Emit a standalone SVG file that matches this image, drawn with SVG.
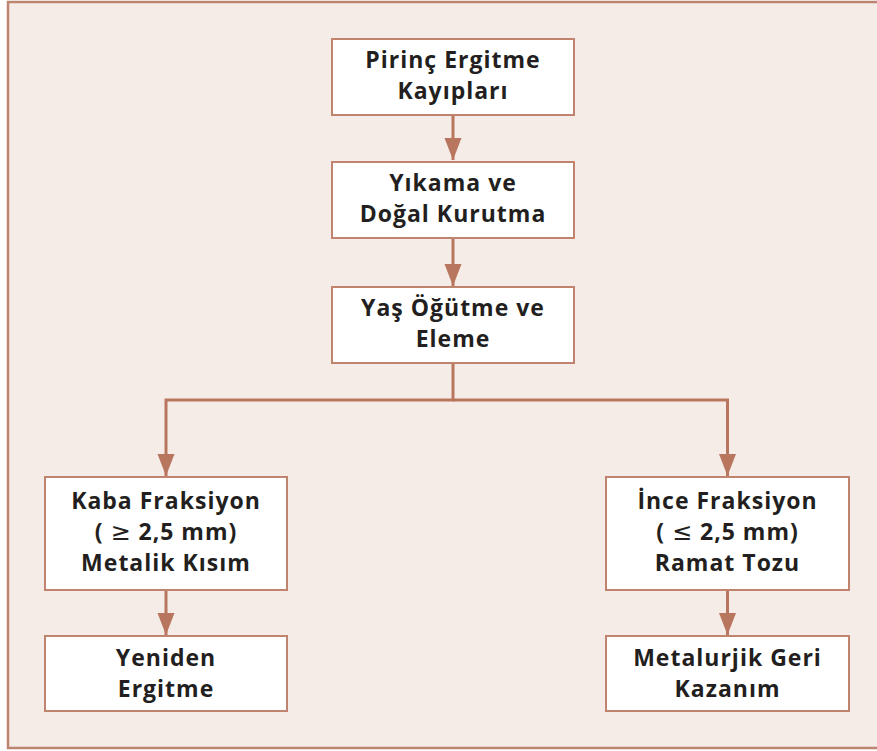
<svg xmlns="http://www.w3.org/2000/svg" width="877" height="751" viewBox="0 0 877 751">
<defs>
<style>
.box{fill:#ffffff;stroke:#c0846e;stroke-width:2}
.t{font-family:"Open Sans","Noto Sans","Liberation Sans",sans-serif;font-weight:bold;font-size:23px;letter-spacing:1px;fill:#231f20;text-anchor:middle}
.s{font-family:"DejaVu Sans",sans-serif;font-weight:normal;font-size:24px}
.c{fill:none;stroke:#b9765e;stroke-width:3}
</style>
<marker id="ah" viewBox="0 0 10 10" refX="10" refY="5" markerWidth="7.5" markerHeight="5.8" markerUnits="strokeWidth" orient="auto" preserveAspectRatio="none">
<path d="M0,0 L10,5 L0,10 Z" fill="#b9765e"/>
</marker>
</defs>
<rect x="8" y="2" width="880" height="746" fill="#f5ece7" stroke="#bd8470" stroke-width="2.5"/>
<g id="connectors">
<line class="c" x1="453" y1="116" x2="453" y2="160" marker-end="url(#ah)"/>
<line class="c" x1="453" y1="239" x2="453" y2="286" marker-end="url(#ah)"/>
<polyline class="c" points="453,364 453,400 166,400 166,476" marker-end="url(#ah)"/>
<polyline class="c" points="453,400 727.5,400 727.5,476" marker-end="url(#ah)"/>
<line class="c" x1="166" y1="591" x2="166" y2="635" marker-end="url(#ah)"/>
<line class="c" x1="727.5" y1="591" x2="727.5" y2="635" marker-end="url(#ah)"/>
</g>
<g id="n1"><rect class="box" x="332" y="39" width="242" height="76"/>
<text class="t" x="453" y="68">Pirinç Ergitme</text><text class="t" x="453" y="99">Kayıpları</text></g>
<g id="n2"><rect class="box" x="332" y="162" width="242" height="76"/>
<text class="t" x="453" y="191">Yıkama ve</text><text class="t" x="453" y="222">Doğal Kurutma</text></g>
<g id="n3"><rect class="box" x="332" y="287" width="242" height="76"/>
<text class="t" x="453" y="316">Yaş Öğütme ve</text><text class="t" x="453" y="347">Eleme</text></g>
<g id="n4"><rect class="box" x="45" y="477" width="242" height="113"/>
<text class="t" x="166" y="509">Kaba Fraksiyon</text><text class="t" x="166" y="540">( <tspan class="s">≥</tspan> 2,5 mm)</text><text class="t" x="166" y="571">Metalik Kısım</text></g>
<g id="n5"><rect class="box" x="606" y="477" width="243" height="113"/>
<text class="t" x="727.5" y="509">İnce Fraksiyon</text><text class="t" x="727.5" y="540">( <tspan class="s">≤</tspan> 2,5 mm)</text><text class="t" x="727.5" y="571">Ramat Tozu</text></g>
<g id="n6"><rect class="box" x="45" y="636" width="242" height="75"/>
<text class="t" x="166" y="666">Yeniden</text><text class="t" x="166" y="697">Ergitme</text></g>
<g id="n7"><rect class="box" x="606" y="636" width="243" height="75"/>
<text class="t" x="727.5" y="666">Metalurjik Geri</text><text class="t" x="727.5" y="697">Kazanım</text></g>
</svg>
